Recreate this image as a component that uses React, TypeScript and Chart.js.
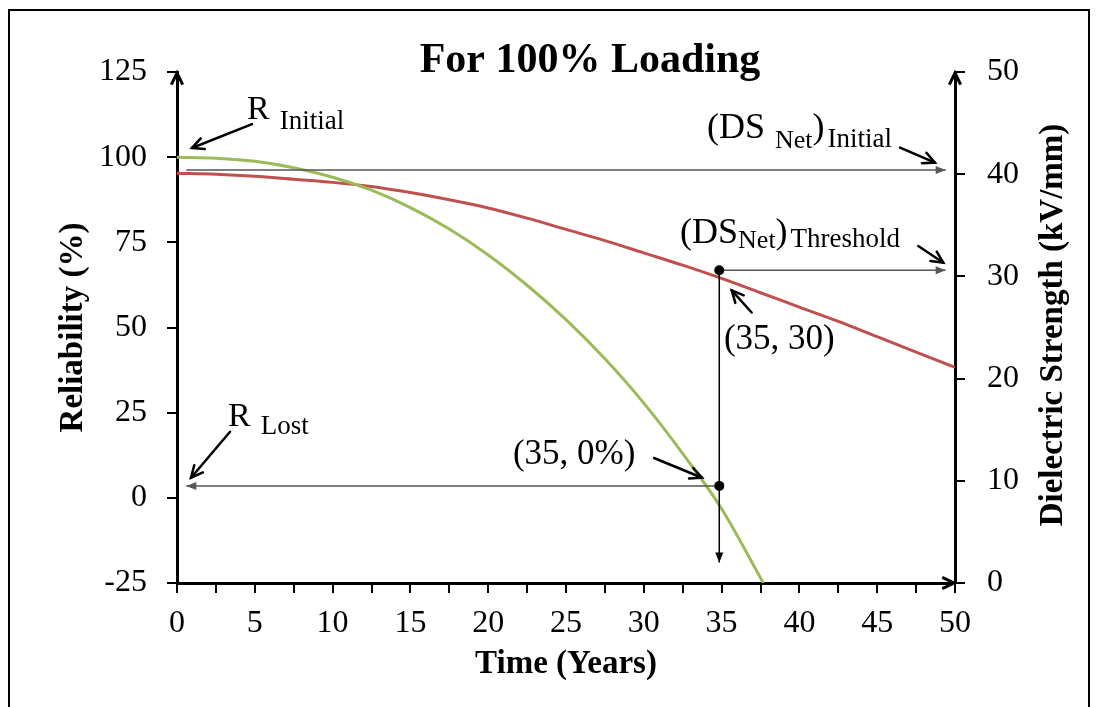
import React, { useEffect, useRef } from "react";
import { Chart, registerables } from "chart.js";

Chart.register(...registerables);

// ---------- data ----------
const reliabilityYears = [0, 2.5, 5, 7.5, 10, 12.5, 15, 17.5, 20, 22.5, 25, 27.5, 30, 32.5, 35, 37.5, 37.68];
const reliabilityValues = [100, 99.7, 98.8, 96.9, 94.1, 90.3, 85.2, 78.9, 71.3, 62.4, 52.3, 40.8, 27.8, 13.0, -3.2, -23.5, -25];

const strengthYears = [0, 2.5, 5, 7.5, 10, 12.5, 15, 17.5, 20, 22.5, 25, 27.5, 30, 32.5, 35, 37.5, 40, 42.5, 45, 47.5, 50];
const strengthValues = [40.1, 40.0, 39.8, 39.5, 39.2, 38.8, 38.2, 37.5, 36.7, 35.7, 34.6, 33.5, 32.3, 31.1, 29.8, 28.4, 27.0, 25.6, 24.1, 22.6, 21.1];

const xTickValues = [0, 2.5, 5, 7.5, 10, 12.5, 15, 17.5, 20, 22.5, 25, 27.5, 30, 32.5, 35, 37.5, 40, 42.5, 45, 47.5, 50];
const xLabelValues = [0, 5, 10, 15, 20, 25, 30, 35, 40, 45, 50];
const leftTickValues = [-25, 0, 25, 50, 75, 100, 125];
const rightTickValues = [0, 10, 20, 30, 40, 50];

const chartTitle = "For 100% Loading";
const xTitle = "Time (Years)";
const yTitle = "Reliability (%)";
const y2Title = "Dielectric Strength (kV/mm)";

// ---------- styling ----------
const SERIF = '"Liberation Serif", "Times New Roman", serif';
const GREEN = "#9BBB59";
const RED = "#C0504D";

// guide lines (data coordinates, axis id for vertical value)
const guideLines = [
  { from: [0.6, 40.4], to: [49.4, 40.4], axis: "y2", color: "#555555" },
  { from: [34.85, 30.6], to: [49.4, 30.6], axis: "y2", color: "#555555" },
  { from: [34.85, 30.6], to: [34.85, 2.0], axis: "y2", color: "#000000" },
  { from: [34.85, 3.5], to: [0.6, 3.5], axis: "y", color: "#555555" },
];
const guideDots = [
  { at: [34.85, 30.6], axis: "y2" },
  { at: [34.85, 3.5], axis: "y" },
];
// pointer arrows (time, reliability)
const pointerArrows = [
  { from: [4.82, 109.7], to: [0.96, 102.7] },
  { from: [46.47, 102.8], to: [48.71, 98.4] },
  { from: [47.64, 73.9], to: [49.25, 69.0] },
  { from: [36.93, 54.4], to: [35.65, 60.9] },
  { from: [3.41, 19.4], to: [0.9, 5.9] },
  { from: [30.66, 11.7], to: [33.74, 5.9] },
];
// labels: start time + segments (text, size, baseline reliability, gap before)
const labelGroups = [
  { t: 4.5, segs: [{ text: "R", size: 34, r: 111.2, gap: 0 }, { text: "Initial", size: 27, r: 108.3, gap: 10 }] },
  {
    t: 34.06,
    segs: [
      { text: "(DS", size: 36, r: 105.5, gap: 0 },
      { text: "Net", size: 26, r: 102.6, gap: 10 },
      { text: ")", size: 36, r: 105.5, gap: 0 },
      { text: "Initial", size: 27, r: 103.0, gap: 3 },
    ],
  },
  {
    t: 32.33,
    segs: [
      { text: "(DS", size: 36, r: 74.9, gap: 0 },
      { text: "Net", size: 26, r: 73.4, gap: 0 },
      { text: ")", size: 36, r: 74.9, gap: 0 },
      { text: "Threshold", size: 27, r: 73.6, gap: 3 },
    ],
  },
  { t: 35.15, segs: [{ text: "(35, 30)", size: 35, r: 43.6, gap: 0 }] },
  { t: 3.28, segs: [{ text: "R", size: 34, r: 21.1, gap: 0 }, { text: "Lost", size: 27, r: 18.7, gap: 10 }] },
  { t: 21.59, segs: [{ text: "(35, 0%)", size: 35, r: 9.9, gap: 0 }] },
];

function filledHead(ctx: CanvasRenderingContext2D, x1: number, y1: number, x2: number, y2: number, len: number, half: number) {
  const a = Math.atan2(y2 - y1, x2 - x1);
  const bx = x2 - len * Math.cos(a);
  const by = y2 - len * Math.sin(a);
  ctx.beginPath();
  ctx.moveTo(x2, y2);
  ctx.lineTo(bx + half * Math.sin(a), by - half * Math.cos(a));
  ctx.lineTo(bx - half * Math.sin(a), by + half * Math.cos(a));
  ctx.closePath();
  ctx.fill();
}

function openHead(ctx: CanvasRenderingContext2D, x1: number, y1: number, x2: number, y2: number, len: number, spread: number) {
  const a = Math.atan2(y2 - y1, x2 - x1);
  ctx.beginPath();
  ctx.moveTo(x2 - len * Math.cos(a - spread), y2 - len * Math.sin(a - spread));
  ctx.lineTo(x2, y2);
  ctx.lineTo(x2 - len * Math.cos(a + spread), y2 - len * Math.sin(a + spread));
  ctx.stroke();
}

const annotationPlugin = {
  id: "annotations",
  afterDatasetsDraw(chart: any) {
    const ctx: CanvasRenderingContext2D = chart.ctx;
    const xs = chart.scales.x;
    const P = (t: number, v: number, axis = "y") => [xs.getPixelForValue(t), chart.scales[axis].getPixelForValue(v)];
    ctx.save();
    ctx.lineCap = "butt";
    for (const g of guideLines) {
      const [x1, y1] = P(g.from[0], g.from[1], g.axis);
      const [x2, y2] = P(g.to[0], g.to[1], g.axis);
      ctx.strokeStyle = g.color;
      ctx.fillStyle = g.color;
      ctx.lineWidth = 1.5;
      ctx.beginPath();
      ctx.moveTo(x1, y1);
      ctx.lineTo(x2, y2);
      ctx.stroke();
      filledHead(ctx, x1, y1, x2, y2, 10, 4);
    }
    ctx.fillStyle = "#000";
    for (const d of guideDots) {
      const [x, y] = P(d.at[0], d.at[1], d.axis);
      ctx.beginPath();
      ctx.arc(x, y, 5, 0, Math.PI * 2);
      ctx.fill();
    }
    ctx.strokeStyle = "#000";
    ctx.lineWidth = 2.5;
    ctx.lineCap = "round";
    ctx.lineJoin = "miter";
    for (const p of pointerArrows) {
      const [x1, y1] = P(p.from[0], p.from[1]);
      const [x2, y2] = P(p.to[0], p.to[1]);
      ctx.beginPath();
      ctx.moveTo(x1, y1);
      ctx.lineTo(x2, y2);
      ctx.stroke();
      openHead(ctx, x1, y1, x2, y2, 13, 0.45);
    }
    ctx.fillStyle = "#000";
    ctx.textBaseline = "alphabetic";
    ctx.textAlign = "left";
    for (const g of labelGroups) {
      let x = xs.getPixelForValue(g.t);
      for (const s of g.segs) {
        x += s.gap;
        ctx.font = `${s.size}px ${SERIF}`;
        const y = chart.scales.y.getPixelForValue(s.r);
        ctx.fillText(s.text, x, y);
        x += ctx.measureText(s.text).width;
      }
    }
    ctx.restore();
  },
  afterDraw(chart: any) {
    const ctx: CanvasRenderingContext2D = chart.ctx;
    const { left, right, top, bottom } = chart.chartArea;
    ctx.save();
    ctx.strokeStyle = "#000";
    ctx.lineWidth = 3;
    ctx.lineCap = "butt";
    ctx.lineJoin = "miter";
    openHead(ctx, left, top + 20, left, top + 1, 13, 0.45);
    openHead(ctx, right, top + 20, right, top + 1, 13, 0.45);
    openHead(ctx, right - 20, bottom, right - 1, bottom, 13, 0.45);
    ctx.fillStyle = "#000";
    ctx.font = `bold 42px ${SERIF}`;
    ctx.textAlign = "center";
    ctx.textBaseline = "alphabetic";
    ctx.fillText(chartTitle, 580, 61);
    ctx.font = `bold 33px ${SERIF}`;
    ctx.translate(1043, 314);
    ctx.rotate(-Math.PI / 2);
    ctx.textBaseline = "middle";
    ctx.fillText(y2Title, 0, 0);
    ctx.restore();
  },
};

export default function App() {
  const ref = useRef<HTMLCanvasElement | null>(null);

  useEffect(() => {
    if (!ref.current) return;
    const tickFont = { family: SERIF, size: 32 };
    const titleFont = { family: SERIF, size: 33, weight: "bold" as const };
    const chart = new Chart(ref.current, {
      type: "line",
      data: {
        datasets: [
          {
            label: "Reliability",
            data: reliabilityYears.map((t, i) => ({ x: t, y: reliabilityValues[i] })),
            yAxisID: "y",
            borderColor: GREEN,
            borderWidth: 3,
            pointRadius: 0,
            cubicInterpolationMode: "monotone",
            fill: false,
          },
          {
            label: "Dielectric Strength",
            data: strengthYears.map((t, i) => ({ x: t, y: strengthValues[i] })),
            yAxisID: "y2",
            borderColor: RED,
            borderWidth: 3,
            pointRadius: 0,
            cubicInterpolationMode: "monotone",
            fill: false,
          },
        ],
      },
      options: {
        animation: false,
        responsive: false,
        maintainAspectRatio: false,
        layout: { padding: { top: 61, left: 0, right: 0, bottom: 0 } },
        plugins: { legend: { display: false }, tooltip: { enabled: false }, title: { display: false } },
        scales: {
          x: {
            type: "linear",
            position: "bottom",
            min: 0,
            max: 50,
            afterBuildTicks: (s: any) => {
              s.ticks = xTickValues.map((v) => ({ value: v }));
            },
            afterFit: (s: any) => {
              s.height = 128;
            },
            ticks: {
              autoSkip: false,
              maxRotation: 0,
              minRotation: 0,
              padding: 11,
              color: "#000",
              font: tickFont,
              callback: (v: any) => (xLabelValues.includes(Number(v)) ? String(v) : ""),
            },
            grid: { drawOnChartArea: false, drawTicks: true, tickLength: 10, color: "#000", lineWidth: 2 },
            border: { display: true, color: "#000", width: 3 },
            title: { display: true, text: xTitle, color: "#000", font: titleFont, padding: { top: 0, bottom: 27 } },
          },
          y: {
            type: "linear",
            position: "left",
            min: -25,
            max: 125,
            afterBuildTicks: (s: any) => {
              s.ticks = leftTickValues.map((v) => ({ value: v }));
            },
            afterFit: (s: any) => {
              s.width = 167;
            },
            ticks: { padding: 20, color: "#000", font: tickFont, callback: (v: any) => String(v) },
            grid: { drawOnChartArea: false, drawTicks: true, tickLength: 10, color: "#000", lineWidth: 2 },
            border: { display: true, color: "#000", width: 3 },
            title: { display: true, text: yTitle, color: "#000", font: titleFont, padding: { top: 44, bottom: 0 } },
          },
          y2: {
            type: "linear",
            position: "right",
            min: 0,
            max: 50,
            afterBuildTicks: (s: any) => {
              s.ticks = rightTickValues.map((v) => ({ value: v }));
            },
            afterFit: (s: any) => {
              s.width = 133;
            },
            ticks: { padding: 22, color: "#000", font: tickFont, callback: (v: any) => String(v) },
            grid: { drawOnChartArea: false, drawTicks: true, tickLength: 10, color: "#000", lineWidth: 2 },
            border: { display: true, color: "#000", width: 3 },
            title: { display: false },
          },
        },
      },
      plugins: [annotationPlugin],
    } as any);
    return () => chart.destroy();
  }, []);

  return (
    <div
      style={{
        position: "absolute",
        left: 8,
        top: 9,
        width: 1078,
        height: 720,
        border: "2px solid #000",
        background: "#fff",
        overflow: "hidden",
      }}
    >
      <canvas ref={ref} width={1078} height={700} style={{ display: "block" }} />
    </div>
  );
}
